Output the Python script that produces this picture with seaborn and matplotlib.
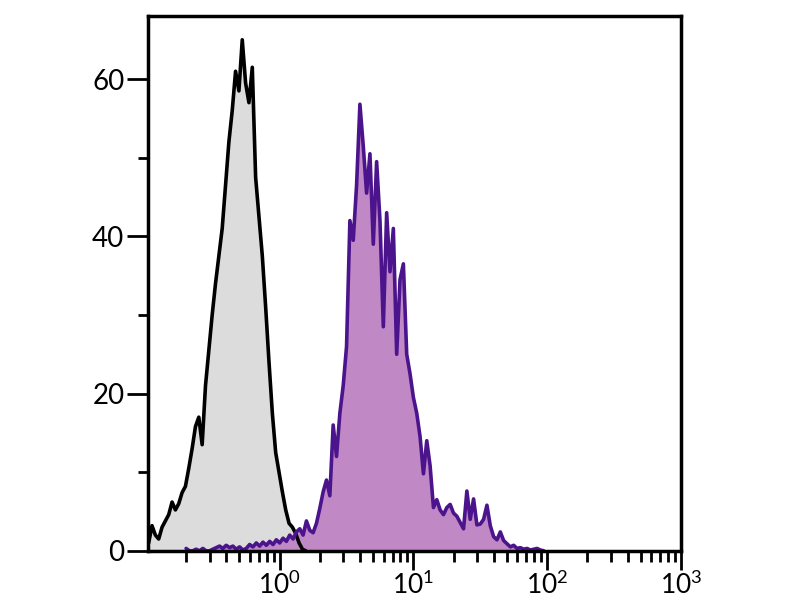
import numpy as np
import matplotlib
matplotlib.use("Agg")
import matplotlib.pyplot as plt
import matplotlib.ticker as mticker
import seaborn as sns

# histogram channels, log10 spacing
BIN_STEP = 0.025
GRAY_START = -0.98
PURPLE_START = -0.70

gray_counts = [
    1.0, 3.2, 2.0, 1.5, 3.0, 3.8, 4.6, 6.2, 5.2, 6.0,
    7.4, 8.2, 10.5, 13.0, 15.8, 17.0, 13.5, 21.0, 25.5, 30.0,
    34.0, 37.5, 41.0, 46.5, 52.0, 56.0, 61.0, 58.5, 65.0, 59.5,
    57.0, 61.5, 47.5, 42.5, 37.5, 31.0, 24.0, 17.5, 12.5, 10.0,
    7.5, 5.2, 3.5, 3.0, 2.2, 1.0, 0.2, 0.0,
]

purple_counts = [
    0.3, 0.0, 0.0, 0.2, 0.0, 0.3, 0.0, 0.0, 0.2, 0.4,
    0.6, 0.3, 0.7, 0.4, 0.6, 0.2, 0.5, 0.1, 0.3, 0.8,
    0.5, 1.0, 0.6, 1.1, 0.7, 1.2, 0.8, 1.4, 1.0, 1.6,
    1.2, 2.0, 1.5, 2.4, 2.8, 2.0, 3.8, 2.6, 2.3, 3.5,
    5.4, 7.5, 9.0, 7.0, 16.0, 12.0, 17.5, 21.0, 26.0, 42.0,
    39.5, 46.5, 56.8, 51.5, 45.5, 50.5, 39.0, 49.5, 42.0, 28.5,
    43.0, 35.5, 41.0, 25.0, 34.5, 36.5, 25.0, 22.5, 19.5, 17.5,
    14.5, 9.8, 14.0, 10.8, 5.5, 6.5, 5.2, 4.6, 5.5, 5.9,
    4.8, 4.4, 3.6, 2.8, 7.6, 4.0, 6.6, 3.3, 3.4, 4.0,
    5.8, 3.2, 1.8, 1.4, 2.4, 1.3, 0.9, 0.5, 0.7, 0.3,
    0.4, 0.2, 0.3, 0.1, 0.2, 0.3, 0.1, 0.0,
]

GRAY_FILL, GRAY_EDGE = "#dcdcdc", "#000000"
PURPLE_FILL, PURPLE_EDGE = "#c088c4", "#4b148c"

def channels(start, n):
    return 10 ** (start + BIN_STEP * np.arange(n))

sns.set_style("ticks")
plt.rcParams["font.family"] = ["Lato", "DejaVu Sans"]
plt.rcParams["mathtext.default"] = "regular"

fig = plt.figure(figsize=(8, 6), dpi=100)
ax = fig.add_axes([0.185, 0.082, 0.666, 0.891])
ax.set_xscale("log")

for start, counts, fill, edge in [
    (GRAY_START, gray_counts, GRAY_FILL, GRAY_EDGE),
    (PURPLE_START, purple_counts, PURPLE_FILL, PURPLE_EDGE),
]:
    x = channels(start, len(counts))
    y = np.asarray(counts)
    ax.fill_between(x, 0, y, color=fill, linewidth=0)
    sns.lineplot(x=x, y=y, color=edge, linewidth=2.6, ax=ax, sort=False)

ax.set_xlim(10 ** -0.985, 1000)
ax.set_ylim(0, 68)

ax.xaxis.set_major_locator(mticker.LogLocator(base=10, numticks=10))
ax.xaxis.set_minor_locator(mticker.LogLocator(base=10, subs=np.arange(2, 10), numticks=20))
ax.xaxis.set_minor_formatter(mticker.NullFormatter())
ax.xaxis.set_major_formatter(mticker.FuncFormatter(lambda v, p: "$10^{%d}$" % round(np.log10(v))))
ax.yaxis.set_major_locator(mticker.MultipleLocator(20))
ax.yaxis.set_minor_locator(mticker.MultipleLocator(10))

ax.tick_params(axis="both", which="major", direction="out", width=2, color="black", labelcolor="black")
ax.tick_params(axis="x", which="major", length=14, pad=1, labelsize=19)
ax.tick_params(axis="y", which="major", length=15, pad=2, labelsize=20)
ax.tick_params(axis="x", which="minor", direction="out", length=8, width=2, color="black")
ax.tick_params(axis="y", which="minor", direction="out", length=7, width=2, color="black")

for side in ["left", "right", "top", "bottom"]:
    ax.spines[side].set_visible(True)
    ax.spines[side].set_linewidth(2.5)
    ax.spines[side].set_color("black")

ax.set_xlabel("")
ax.set_ylabel("")

fig.savefig("out.png", dpi=100)
